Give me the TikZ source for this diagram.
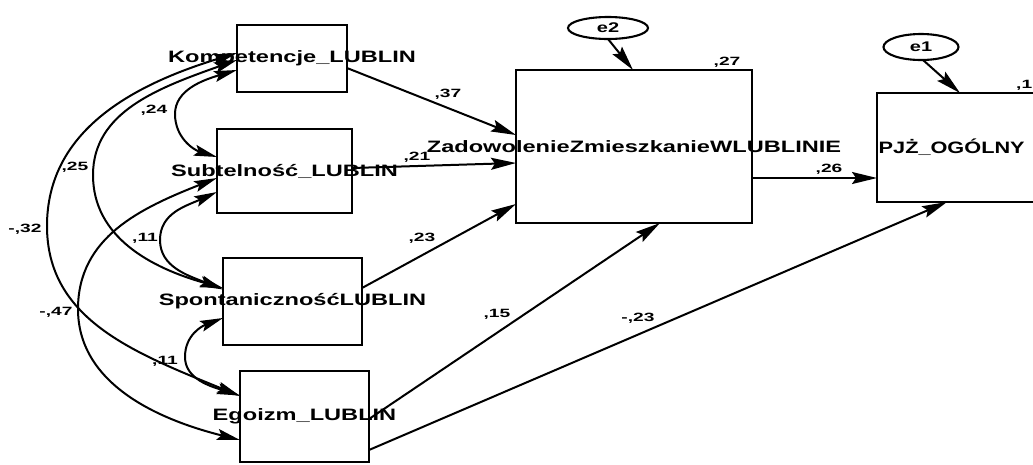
\documentclass[tikz,border=0pt]{standalone}
\usepackage{fontspec}
\setmainfont{Liberation Sans}
\newfontfamily\boxfont[FakeStretch=1.43]{Liberation Sans Bold}
\newfontfamily\numfont[FakeStretch=1.6]{Liberation Sans Bold}
\usetikzlibrary{arrows.meta,shapes.geometric,calc}
\tikzset{
  var/.style={draw, line width=2.2pt, inner sep=0pt, outer sep=0pt},
  vlabel/.style={font=\boxfont\fontsize{16.5}{18}\selectfont, inner sep=0pt},
  err/.style={draw, ellipse, line width=2.1pt, inner sep=0pt, outer sep=0pt,
    font=\boxfont\fontsize{14}{16}\selectfont},
  coef/.style={font=\numfont\fontsize{12}{14}\selectfont, inner sep=0pt},
  reg/.style={line width=2pt, -{Stealth[length=25pt,width=12pt,inset=4pt]}},
  cov/.style={line width=2pt,
    {Stealth[length=23pt,width=11pt,inset=4pt]}-{Stealth[length=23pt,width=11pt,inset=4pt]}},
}
\begin{document}
\begin{tikzpicture}[x=1pt,y=-1pt]
\useasboundingbox (0,0) rectangle (1033,464);
\clip (0,0) rectangle (1033,464);
\fill[white] (0,0) rectangle (1033,464);

% observed variables
\node[var, minimum width=110pt, minimum height=67pt,
  label={[vlabel]center:Kompetencje\_LUBLIN}] (K) at (292,58.5) {};
\node[var, minimum width=135pt, minimum height=84pt,
  label={[vlabel]center:Subtelność\_LUBLIN}] (S) at (284.5,171) {};
\node[var, minimum width=139pt, minimum height=87pt,
  label={[vlabel]center:SpontanicznośćLUBLIN}] (Sp) at (292.5,301.5) {};
\node[var, minimum width=129pt, minimum height=91pt,
  label={[vlabel]center:Egoizm\_LUBLIN}] (E) at (304.5,416.5) {};
\node[var, minimum width=236pt, minimum height=153pt,
  label={[vlabel]center:ZadowolenieZmieszkanieWLUBLINIE}] (Z) at (634,146.5) {};
\node[var, minimum width=168pt, minimum height=109pt] (P) at (961,147.5) {};
\node[vlabel, anchor=west] (Pt) at ($(P.west)+(1.5,0)$)
  {\scalebox{0.92}[1]{PJŻ\_OGÓLNY}};

% error terms
\node[err, minimum width=80pt, minimum height=22pt] (e2) at (608,28) {e2};
\node[err, minimum width=75pt, minimum height=26pt] (e1) at (921,47) {e1};

% regression paths
\draw[reg] ($(K.east)+(0,9.5)$) -- ($(Z.west)+(0,-11.5)$);
\draw[reg] ($(S.east)+(0,-3)$) -- ($(Z.west)+(0,16.5)$);
\draw[reg] ($(Sp.east)+(0,-13.5)$) -- ($(Z.west)+(0,57.5)$);
\draw[reg] ($(E.east)+(0,2.5)$) -- ($(Z.south)+(26,0)$);
\draw[reg] ($(E.east)+(0,33.5)$) -- ($(P.south)+(-14,0)$);
\draw[reg] ($(Z.east)+(0,31.5)$) -- ($(P.west)+(0,30.5)$);
\draw[reg] (e2.south) -- ($(Z.north)+(-1,0)$);
\draw[reg] ($(e1.south)+(2,0)$) -- ($(P.north)+(-1,0)$);

% turning points of the covariance arcs
\coordinate (LKS) at (175,114);
\coordinate (LKP) at (93,175);
\coordinate (LKE) at (47,226);
\coordinate (LSP) at (160,240);
\coordinate (LSE) at (78,309);
\coordinate (LPE) at (185,357);

% covariances
\draw[cov] ($(K.west)+(0,11.5)$) .. controls +(-34,10) and +(0,-24) .. (LKS)
  .. controls +(0,24) and +(-23,-7) .. ($(S.west)+(0,-14)$);
\draw[cov] ($(K.west)+(0,1.5)$) .. controls +(-79,28) and +(0,-63) .. (LKP)
  .. controls +(0,62) and +(-72,-20) .. ($(Sp.west)+(0,-13.5)$);
\draw[cov] ($(K.west)+(0,-5.5)$) .. controls +(-105,32) and +(0,-95) .. (LKE)
  .. controls +(0,94) and +(-105,-43) .. ($(E.west)+(0,-20.5)$);
\draw[cov] ($(S.west)+(0,21)$) .. controls +(-31,14) and +(0,-27) .. (LSP)
  .. controls +(0,27) and +(-35,-14) .. ($(Sp.west)+(0,-12)$);
\draw[cov] ($(S.west)+(0,7)$) .. controls +(-76,30) and +(0,-72) .. (LSE)
  .. controls +(0,72) and +(-88,-22) .. ($(E.west)+(0,23.5)$);
\draw[cov] ($(Sp.west)+(0,16.5)$) .. controls +(-21,8) and +(0,-22) .. (LPE)
  .. controls +(0,22) and +(-29,-9) .. ($(E.west)+(0,-21)$);

% coefficients
\node[coef] (c37) at (448,94) {,37};
\node[coef] (c21) at (417,157) {,21};
\node[coef] (c23) at (422,238) {,23};
\node[coef] (c15) at (497,314) {,15};
\node[coef] (cm23) at (638,318) {-,23};
\node[coef] (c26) at (829,169) {,26};
\node[coef] (c27) at (727,62) {,27};
\node[coef, anchor=west] (c1) at (1016,85) {,1};
\node[coef] (c24) at (154,110) {,24};
\node[coef] (c25) at (75,167) {,25};
\node[coef] (cm32) at (25,229) {-,32};
\node[coef] (c11a) at (145,238) {,11};
\node[coef] (cm47) at (56,312) {-,47};
\node[coef] (c11b) at (165,361) {,11};
\end{tikzpicture}
\end{document}
